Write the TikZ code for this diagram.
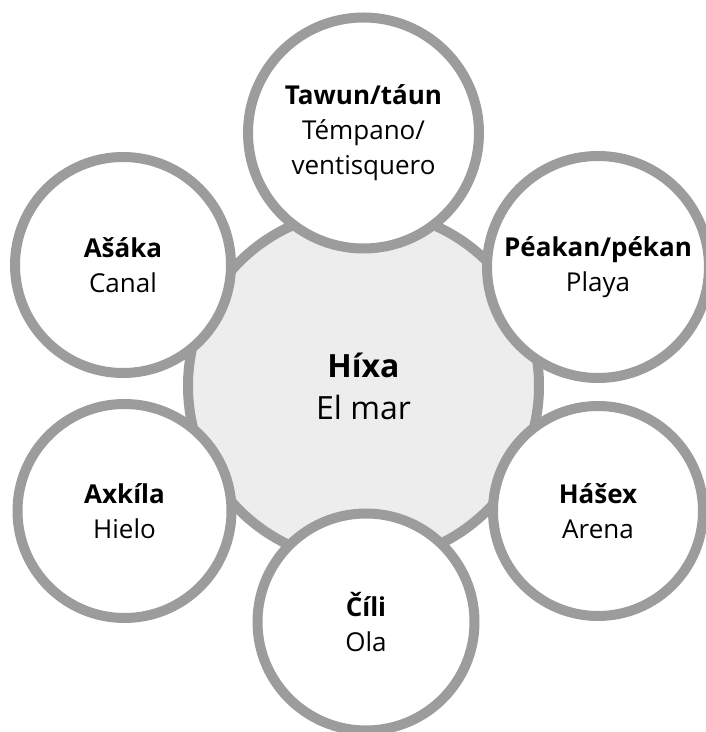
\documentclass[tikz,border=0pt]{standalone}
\usepackage{fontspec}
\setmainfont{Open Sans}
\definecolor{ringgray}{HTML}{9C9C9C}
\definecolor{hubfill}{HTML}{EDEDED}
\begin{document}
\begin{tikzpicture}[x=1pt,y=1pt,
  ring/.style={circle, draw=ringgray, line width=10pt, fill=white, inner sep=0pt, align=center,
    font=\fontsize{26}{35}\selectfont},
  hub/.style={circle, draw=ringgray, line width=10pt, fill=hubfill, inner sep=0pt, align=center,
    font=\fontsize{32}{42}\selectfont}]
\useasboundingbox (0,0) rectangle (706,732);
\node[hub, minimum size=351pt] (hub) at (363.5,346) {\textbf{Híxa}\\El mar};
\node[ring, minimum size=231pt] (tawun) at (363.5,599) {\textbf{Tawun/táun}\\Témpano/\\ventisquero};
\node[ring, minimum size=222pt] (peakan) at (598,465) {\textbf{Péakan/pékan}\\Playa};
\node[ring, minimum size=210pt] (hasex) at (598,221) {\textbf{Hášex}\\Arena};
\node[ring, minimum size=217pt] (cili) at (366,110) {\textbf{Číli}\\Ola};
\node[ring, minimum size=214pt] (axkila) at (124.5,221) {\textbf{Axkíla}\\Hielo};
\node[ring, minimum size=216pt] (asaka) at (123,467) {\textbf{Ašáka}\\Canal};
\end{tikzpicture}
\end{document}
